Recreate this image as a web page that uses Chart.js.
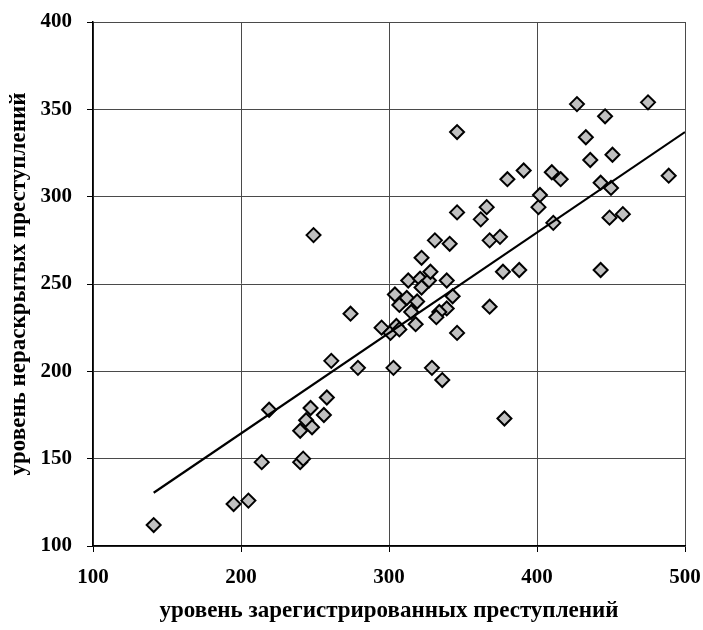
<!DOCTYPE html>
<html>
<head>
<meta charset="utf-8">
<script src="https://cdn.jsdelivr.net/npm/chart.js@4/dist/chart.umd.min.js"></script>
<style>
    html, body { margin: 0; padding: 0; background: #fff; }
    #wrap { width: 703px; height: 630px; }
</style>
</head>
<body>
<div id="wrap"><canvas id="scatterChart" width="703" height="630"></canvas></div>
<script>
// registered crimes (x) and unsolved crimes (y)
const registered = [141, 195, 205, 214, 219, 240, 242, 240, 244, 247, 248, 256, 258, 261, 279, 274, 249,
    295, 301, 305, 307, 303, 329, 336, 378, 304, 312, 319, 307, 343, 368, 315, 339, 334, 332, 318, 346,
    313, 321, 327, 339, 322, 322, 328, 331, 341, 368, 375, 377, 388, 346, 366, 362, 401, 402, 411, 346,
    427, 475, 446, 433, 436, 451, 391, 380, 410, 416, 489, 443, 450, 449, 458, 443];
const unsolved = [112, 124, 126, 148, 178, 148, 150, 166, 172, 179, 168, 175, 185, 206, 202, 233, 278,
    225, 222, 226, 224, 202, 202, 195, 173, 244, 242, 240, 238, 243, 237, 234, 236, 234, 231, 227, 222,
    252, 253, 252, 252, 248, 265, 257, 275, 273, 275, 277, 257, 258, 291, 294, 287, 294, 301, 285, 337,
    353, 354, 346, 334, 321, 324, 315, 310, 314, 310, 312, 308, 305, 288, 290, 258];

// linear trend line end points
const trendX = [141, 500];
const trendY = [130.5, 337];

const xTicks = [100, 200, 300, 400, 500];
const yTicks = [100, 150, 200, 250, 300, 350, 400];

const xTitle = 'уровень зарегистрированных преступлений';
const yTitle = 'уровень нераскрытых преступлений';

document.addEventListener('DOMContentLoaded', function() {
    const points = registered.map((x, i) => ({ x: x, y: unsolved[i] }));
    const trend = trendX.map((x, i) => ({ x: x, y: trendY[i] }));

    const tickFont = { family: "'Liberation Serif', 'Times New Roman', serif", size: 21, weight: 'bold' };
    const titleFont = { family: "'Liberation Serif', 'Times New Roman', serif", size: 23, weight: 'bold' };

    const ctx = document.getElementById('scatterChart').getContext('2d');
    new Chart(ctx, {
        type: 'scatter',
        data: {
            datasets: [
                {
                    type: 'line',
                    data: trend,
                    borderColor: '#000',
                    borderWidth: 2.2,
                    pointRadius: 0,
                    fill: false,
                    order: 0
                },
                {
                    data: points,
                    pointStyle: 'rectRot',
                    pointRadius: 7,
                    backgroundColor: '#c0c0c0',
                    borderColor: '#000',
                    borderWidth: 2,
                    order: 1
                }
            ]
        },
        options: {
            responsive: false,
            animation: false,
            layout: { padding: { top: 22, right: 18, left: 0, bottom: 0 } },
            plugins: {
                legend: { display: false },
                tooltip: { enabled: false }
            },
            scales: {
                x: {
                    type: 'linear',
                    min: xTicks[0],
                    max: xTicks[xTicks.length - 1],
                    afterBuildTicks: function(scale) {
                        scale.ticks = xTicks.map(v => ({ value: v }));
                    },
                    afterFit: function(scale) {
                        scale.height = 84;
                        scale.paddingLeft = 0;
                        scale.paddingRight = 0;
                    },
                    grid: { color: '#4a4a4a', lineWidth: 1, tickColor: '#000', tickLength: 6 },
                    border: { color: '#000', width: 1.5 },
                    ticks: { color: '#000', font: tickFont, padding: 13, maxRotation: 0 },
                    title: {
                        display: true,
                        text: xTitle,
                        color: '#000',
                        font: titleFont,
                        padding: { top: 6, bottom: 5 }
                    }
                },
                y: {
                    type: 'linear',
                    min: yTicks[0],
                    max: yTicks[yTicks.length - 1],
                    afterBuildTicks: function(scale) {
                        scale.ticks = yTicks.map(v => ({ value: v }));
                    },
                    afterFit: function(scale) {
                        scale.width = 93;
                        scale.paddingTop = 0;
                        scale.paddingBottom = 0;
                    },
                    grid: { color: '#4a4a4a', lineWidth: 1, tickColor: '#000', tickLength: 6 },
                    border: { color: '#000', width: 1.5 },
                    ticks: { color: '#000', font: tickFont, padding: 15 },
                    title: {
                        display: true,
                        text: yTitle,
                        color: '#000',
                        font: titleFont,
                        padding: { top: 5, bottom: 6 }
                    }
                }
            }
        }
    });
});
</script>
</body>
</html>
